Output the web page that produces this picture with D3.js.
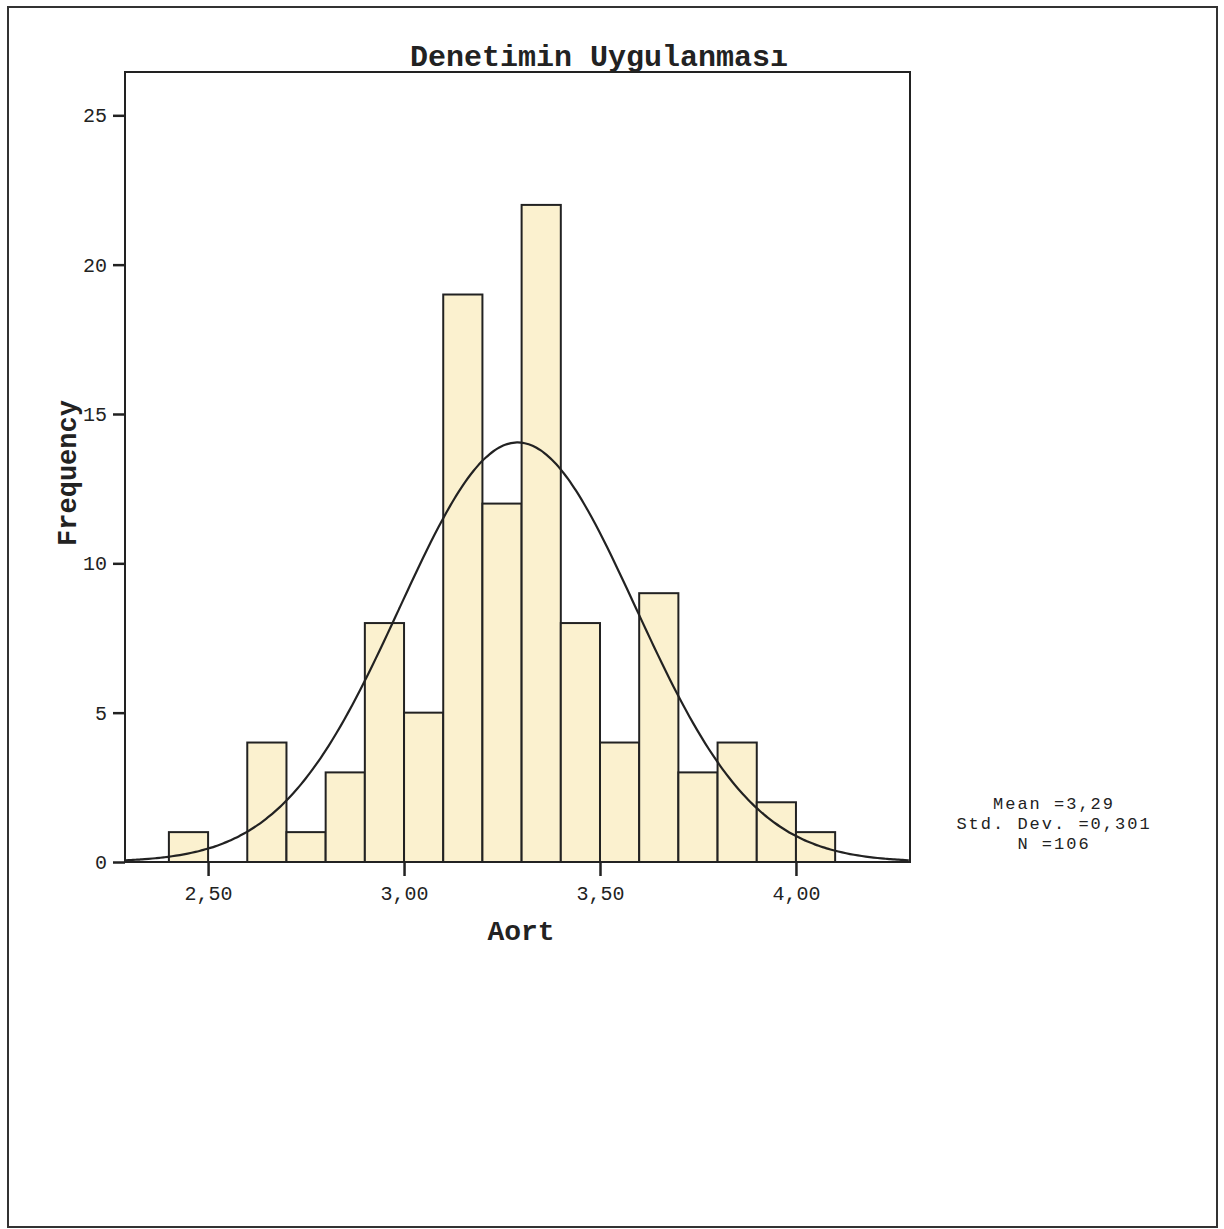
<!DOCTYPE html>
<head>
<meta charset="utf-8">
<title>Denetimin Uygulanması</title>
<script src="https://d3js.org/d3.v7.min.js"></script>
<style>
  body { margin: 0; background: #fff; }
  text { font-family: "Liberation Mono", "Courier New", monospace; fill: #222; }
</style>
</head>
<body>
<div id="container"></div>
<script>
// ---- data ----
const binStarts = [2.4, 2.5, 2.6, 2.7, 2.8, 2.9, 3.0, 3.1, 3.2, 3.3, 3.4, 3.5, 3.6, 3.7, 3.8, 3.9, 4.0];
const counts    = [1,   0,   4,   1,   3,   8,   5,   19,  12,  22,  8,   4,   9,   3,   4,   2,   1];
const binWidth = 0.1;
const xTicks = [2.5, 3.0, 3.5, 4.0];
const yTicks = [0, 5, 10, 15, 20, 25];
const mean = 3.29, sd = 0.301, n = 106;
const stats = ["Mean =3,29", "Std. Dev. =0,301", "N =106"];

const W = 1224, H = 1229;
const svg = d3.select("#container").append("svg")
    .attr("width", W).attr("height", H);

// outer page frame
svg.append("rect")
    .attr("x", 8).attr("y", 7).attr("width", 1209).attr("height", 1220)
    .attr("fill", "none").attr("stroke", "#333").attr("stroke-width", 2);

// ---- scales ----
const pLeft = 125, pRight = 910, pTop = 72, pBottom = 862;
const x = d3.scaleLinear().domain([2.288, 4.291]).range([pLeft, pRight]);
const y = d3.scaleLinear().domain([0, 26.45]).range([pBottom, pTop]);

// ---- bars ----
svg.append("g").selectAll("rect")
    .data(binStarts.map((s, i) => ({s: s, c: counts[i]})).filter(d => d.c > 0))
    .enter().append("rect")
    .attr("x", d => x(d.s))
    .attr("y", d => y(d.c))
    .attr("width", d => x(d.s + binWidth) - x(d.s))
    .attr("height", d => y(0) - y(d.c))
    .attr("fill", "#fbf1cf")
    .attr("stroke", "#222")
    .attr("stroke-width", 2);

// ---- normal curve (from mean, sd, n) ----
const pts = d3.range(x.domain()[0], x.domain()[1] + 0.0001, 0.01).map(v => ({
  v: v,
  f: n * binWidth / (sd * Math.sqrt(2 * Math.PI)) * Math.exp(-0.5 * Math.pow((v - mean) / sd, 2))
}));
svg.append("path")
    .attr("d", d3.line().x(d => x(d.v)).y(d => y(d.f)).curve(d3.curveBasis)(pts))
    .attr("fill", "none").attr("stroke", "#222").attr("stroke-width", 2.2);

// ---- frame ----
svg.append("rect")
    .attr("x", pLeft).attr("y", pTop).attr("width", pRight - pLeft).attr("height", pBottom - pTop)
    .attr("fill", "none").attr("stroke", "#222").attr("stroke-width", 2);

// ---- axes ----
const fmt = d => d3.format(".2f")(d).replace(".", ",");
const xAxis = svg.append("g")
    .attr("transform", "translate(0," + pBottom + ")")
    .call(d3.axisBottom(x).tickValues(xTicks).tickSize(14).tickPadding(10).tickFormat(fmt));
const yAxis = svg.append("g")
    .attr("transform", "translate(" + pLeft + ",0)")
    .call(d3.axisLeft(y).tickValues(yTicks).tickSize(12).tickPadding(6));
[xAxis, yAxis].forEach(a => {
  a.select(".domain").remove();
  a.selectAll("line").attr("stroke", "#222").attr("stroke-width", 2.5);
  a.selectAll("text").attr("font-family", "Liberation Mono, monospace")
      .attr("font-size", 20).attr("fill", "#333");
});

// ---- labels ----
svg.append("text")
    .attr("x", 599).attr("y", 66).attr("text-anchor", "middle")
    .attr("font-size", 30).attr("font-weight", "bold")
    .text("Denetimin Uygulanması");

svg.append("text")
    .attr("x", 521).attr("y", 940).attr("text-anchor", "middle")
    .attr("font-size", 28).attr("font-weight", "bold")
    .text("Aort");

svg.append("text")
    .attr("transform", "translate(76,473) rotate(-90)")
    .attr("text-anchor", "middle")
    .attr("font-size", 27).attr("font-weight", "bold")
    .text("Frequency");

svg.append("g").selectAll("text")
    .data(stats).enter().append("text")
    .attr("x", 1054).attr("y", (d, i) => 809 + i * 20)
    .attr("text-anchor", "middle")
    .attr("font-size", 17).attr("letter-spacing", 2).attr("fill", "#333")
    .text(d => d);
</script>
</body>
